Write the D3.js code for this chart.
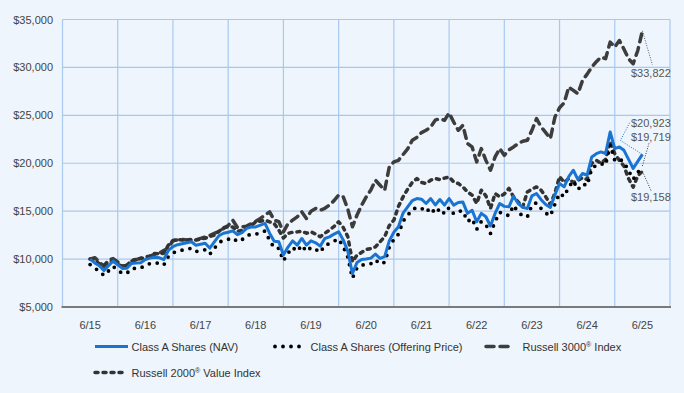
<!DOCTYPE html>
<html>
<head>
<meta charset="utf-8">
<script src="https://cdn.jsdelivr.net/npm/d3@7"></script>
<style>
  body { margin: 0; background: #eef5fc; }
  svg { display: block; font-family: Arial, 'Liberation Sans', sans-serif; }
</style>
</head>
<body>
<div id="chart"></div>
<script>
// x-axis categories (fiscal years ending June)
const years = ['6/15', '6/16', '6/17', '6/18', '6/19', '6/20', '6/21', '6/22', '6/23', '6/24', '6/25'];
const yTicks = [5000, 10000, 15000, 20000, 25000, 30000, 35000];

// monthly values of a $10,000 investment, 6/15 .. 6/25
const navValues = [
    10000, 9600, 9300, 8800, 9300, 9800, 9400, 9030, 9050, 9550, 9600, 9620,
    9950, 10100, 10200, 10150, 9950, 10900, 11300, 11500, 11600, 11700, 11800, 11450,
    11550, 11650, 11150, 11800, 12450, 12700, 12800, 12950, 12550, 12750, 13200, 13350,
    13360, 13550, 13720, 12700, 11850, 11800, 10420, 11250, 11900, 11460, 12150, 11460,
    11900, 11700, 11350, 12150, 12320, 12600, 12840, 12000, 10800, 8500, 9650, 9950,
    10000, 10100, 10520, 10070, 10250, 11900, 12800, 13370, 14800, 15450, 16100, 16320,
    16250, 15800, 16320, 15650, 16220, 15630, 16320, 15630, 15900, 15950, 14770, 15100,
    13900, 14770, 14420, 13450, 14770, 15800, 15500, 15450, 16560, 15800, 15400, 15280,
    16600, 16840, 16200, 15700, 15390, 16700, 17890, 17530, 18600, 19270, 18300, 18930,
    18750, 20660, 21000, 21180, 21010, 23260, 21530, 21700, 21350, 20400, 19450, 20200,
    20923
];
const offerValues = [
    9425, 9048, 8765, 8294, 8765, 9237, 8860, 8511, 8530, 9001, 9048, 9067,
    9378, 9519, 9614, 9566, 9378, 10273, 10650, 10839, 10933, 11027, 11122, 10792,
    10886, 10980, 10509, 11122, 11734, 11970, 12064, 12205, 11828, 12017, 12441, 12582,
    12592, 12771, 12931, 11970, 11169, 11122, 9821, 10603, 11216, 10801, 11451, 10801,
    11216, 11027, 10698, 11451, 11612, 11876, 12102, 11310, 10179, 8011, 9095, 9378,
    9425, 9519, 9915, 9491, 9661, 11216, 12064, 12601, 13949, 14562, 15174, 15382,
    15316, 14892, 15382, 14750, 15287, 14731, 15382, 14731, 14986, 15033, 13921, 14232,
    13101, 13921, 13591, 12677, 13921, 14892, 14609, 14562, 15608, 14892, 14515, 14401,
    15646, 15872, 15269, 14797, 14505, 15740, 16861, 16522, 17531, 18162, 17248, 17842,
    17672, 19472, 19793, 19962, 19802, 21923, 20292, 20452, 20122, 19227, 18332, 19039,
    19719
];
const r3000Values = [
    10000, 10150, 9700, 9250, 9900, 10050, 9700, 9300, 9270, 9900, 9950, 10100,
    10240, 10300, 10500, 10600, 10900, 11150, 11950, 12000, 12050, 12000, 11980, 12000,
    12160, 12300, 12450, 12680, 12900, 13200, 13500, 14060, 13300, 13350, 13440, 13700,
    13950, 14240, 14600, 14930, 14060, 13900, 12840, 13700, 14060, 14400, 14930, 14240,
    15000, 15280, 15100, 15300, 15630, 16100, 16670, 16490, 15200, 13370, 14600, 15630,
    16500, 17200, 18230, 17700, 17190, 19600, 20140, 20310, 20900, 21500, 22400, 22700,
    23200, 23440, 23780, 24500, 24660, 24480, 25240, 24300, 23440, 23960, 22050, 21700,
    20140, 21530, 20300, 19270, 20660, 21530, 20830, 21400, 21700, 22050, 22300, 22400,
    23440, 24660, 23780, 23200, 22570, 24820, 25800, 26300, 27950, 27600, 27260, 28650,
    29300, 30030, 30600, 31070, 30910, 32640, 32120, 32810, 31900, 30900, 30390, 31770,
    33822
];
const r2000vValues = [
    10000, 9900, 9500, 9350, 9700, 9800, 9450, 9250, 9370, 9800, 9900, 10070,
    10100, 10300, 10590, 10550, 10600, 11460, 11900, 12050, 12000, 11980, 12050, 11980,
    12100, 12160, 12350, 12500, 12900, 13300, 13350, 13350, 12900, 13000, 13360, 13500,
    13890, 13950, 14060, 13890, 13700, 13020, 12200, 12680, 12800, 12840, 12900, 12700,
    12840, 12600, 12330, 12700, 13020, 13400, 13890, 13300, 12330, 9720, 10420, 10700,
    11000, 11100, 11280, 11800, 12330, 13500, 14060, 15500, 16490, 17300, 18000, 18400,
    18000, 17890, 18230, 18400, 18300, 18450, 18570, 18050, 17890, 17530, 17010, 16670,
    15800, 17190, 16600, 15280, 16840, 16490, 16800, 17370, 16500, 15970, 15450, 17010,
    17300, 17530, 17190, 16500, 15700, 16900, 18600, 18000, 18400, 18000, 18200, 18500,
    18300, 20000, 20300, 20000, 20400, 22300, 21000, 20300, 19700, 18400, 17500, 18700,
    19158
];

const width = 684,
    height = 393;
const margin = { top: 19.5, right: 14, bottom: 86, left: 62.5 };
const plotBottom = height - margin.bottom;

const svg = d3.select('#chart').append('svg').attr('width', width).attr('height', height);

svg.append('rect').attr('width', width).attr('height', height).attr('fill', '#eef5fc');

const x = d3.scaleBand().domain(years).range([margin.left, width - margin.right]).padding(0);
const xm = d3
    .scaleLinear()
    .domain([0, navValues.length - 1])
    .range([x(years[0]) + x.bandwidth() / 2, x(years[years.length - 1]) + x.bandwidth() / 2]);
const y = d3.scaleLinear().domain([5000, 35000]).range([plotBottom, margin.top]);

const gridColor = '#a9c8f0';

// horizontal grid
svg.append('g')
    .selectAll('line')
    .data(yTicks.slice(1))
    .enter()
    .append('line')
    .attr('x1', margin.left)
    .attr('x2', width - margin.right)
    .attr('y1', (d) => y(d))
    .attr('y2', (d) => y(d))
    .attr('stroke', gridColor)
    .attr('stroke-width', 1.2);

// vertical grid at band edges
const edges = years.map((d) => x(d)).concat([x(years[years.length - 1]) + x.bandwidth()]);
svg.append('g')
    .selectAll('line')
    .data(edges)
    .enter()
    .append('line')
    .attr('x1', (d) => d)
    .attr('x2', (d) => d)
    .attr('y1', margin.top)
    .attr('y2', plotBottom)
    .attr('stroke', gridColor)
    .attr('stroke-width', 1.2);

// bottom axis line
svg.append('line')
    .attr('x1', margin.left - 1)
    .attr('x2', width - margin.right + 1)
    .attr('y1', plotBottom)
    .attr('y2', plotBottom)
    .attr('stroke', '#7a7a7a')
    .attr('stroke-width', 2);

// y labels
svg.append('g')
    .selectAll('text')
    .data(yTicks)
    .enter()
    .append('text')
    .attr('x', 53)
    .attr('y', (d) => y(d) + 4)
    .attr('text-anchor', 'end')
    .attr('fill', '#444')
    .style('font-size', '11px')
    .text((d) => d3.format('$,')(d));

// x labels
svg.append('g')
    .selectAll('text')
    .data(years)
    .enter()
    .append('text')
    .attr('x', (d) => x(d) + x.bandwidth() / 2)
    .attr('y', 329)
    .attr('text-anchor', 'middle')
    .attr('fill', '#444')
    .style('font-size', '11px')
    .text((d) => d);

// name split around the registered mark so it can be drawn as a superscript
const series = [
    { name: ['Russell 3000', ' Index'], values: r3000Values, color: '#3d3d3d', width: 3.5, dash: '8 6', cap: 'round' },
    { name: ['Russell 2000', ' Value Index'], values: r2000vValues, color: '#333', width: 3.5, dash: '3 5', cap: 'round' },
    { name: ['Class A Shares (Offering Price)'], values: offerValues, color: '#000', width: 3.8, dash: '0 8', cap: 'round' },
    { name: ['Class A Shares (NAV)'], values: navValues, color: '#1a74d2', width: 3, dash: null, cap: 'butt' },
];

const line = d3
    .line()
    .x((d, i) => xm(i))
    .y((d) => y(d));

svg.append('g')
    .selectAll('path')
    .data(series)
    .enter()
    .append('path')
    .attr('d', (d) => line(d.values))
    .attr('fill', 'none')
    .attr('stroke', (d) => d.color)
    .attr('stroke-width', (d) => d.width)
    .attr('stroke-dasharray', (d) => d.dash)
    .attr('stroke-linecap', (d) => d.cap)
    .attr('stroke-linejoin', 'round');

// end value labels with leader lines
const last = (arr) => arr[arr.length - 1];
const endX = xm(navValues.length - 1);
const endLabels = [
    { v: last(r3000Values), lx: 631, ly: 76.5, path: [[0, 0], [10, 34]], color: '#555' },
    { v: last(navValues), lx: 631, ly: 127, path: [[0, 0], [-22, -14], [-12, -33]], color: '#1a74d2' },
    { v: last(offerValues), lx: 631, ly: 141, path: [[0, 0], [7, -24]], color: '#333' },
    { v: last(r2000vValues), lx: 631, ly: 201, path: [[0, 0], [9, 20]], color: '#333' },
];

endLabels.forEach((d) => {
    const ex = endX,
        ey = y(d.v);
    svg.append('path')
        .attr('d', d3.line()(d.path.map((p) => [ex + p[0], ey + p[1]])))
        .attr('fill', 'none')
        .attr('stroke', d.color)
        .attr('stroke-width', 1)
        .attr('stroke-dasharray', '1 1.5');
    svg.append('text')
        .attr('x', d.lx)
        .attr('y', d.ly)
        .attr('fill', '#555')
        .style('font-size', '11px')
        .text(d3.format('$,')(d.v));
});

// legend
const legendItems = [
    { s: series[3], x1: 95, x2: 128, tx: 131.5, ty: 350.5 },
    { s: series[2], x1: 275, x2: 302, tx: 310.5, ty: 350.5 },
    { s: series[0], x1: 486, x2: 514, tx: 522.5, ty: 350.5 },
    { s: series[1], x1: 95, x2: 124, tx: 131.5, ty: 376.5 },
];

const legend = svg.append('g').attr('class', 'legend');
legendItems.forEach((d) => {
    legend
        .append('line')
        .attr('x1', d.x1)
        .attr('x2', d.x2)
        .attr('y1', d.ty - 4)
        .attr('y2', d.ty - 4)
        .attr('stroke', d.s.color)
        .attr('stroke-width', d.s.width)
        .attr('stroke-dasharray', d.s.dash)
        .attr('stroke-linecap', d.s.cap);
    const t = legend
        .append('text')
        .attr('x', d.tx)
        .attr('y', d.ty)
        .attr('fill', '#333')
        .style('font-size', '11px');
    t.append('tspan').text(d.s.name[0]);
    if (d.s.name.length > 1) {
        t.append('tspan').attr('dy', -4).style('font-size', '7px').text('\u00AE');
        t.append('tspan').attr('dy', 4).text(d.s.name[1]);
    }
});
</script>
</body>
</html>
